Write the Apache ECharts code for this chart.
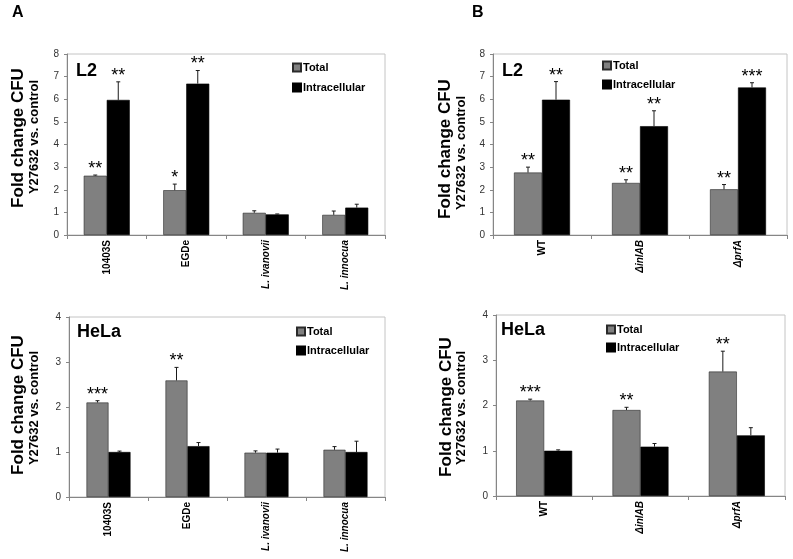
<!DOCTYPE html>
<html>
<head>
<meta charset="utf-8">
<script src="https://cdn.jsdelivr.net/npm/echarts@6/dist/echarts.min.js"></script>
<style>html,body{margin:0;padding:0;background:#fff}#c{width:793px;height:559px}</style>
</head>
<body>
<div id="c"></div>
<script>
// ---------- DATA ----------
const categoriesA = ['10403S', 'EGDe', 'L. ivanovii', 'L. innocua'];
const categoriesB = ['WT', 'ΔinlAB', 'ΔprfA'];
const italicLabels = ['L. ivanovii', 'L. innocua', 'ΔinlAB', 'ΔprfA'];

// Panel A, L2
const aL2Total = [2.62, 1.98, 0.98, 0.89];
const aL2TotalErr = [0.03, 0.27, 0.09, 0.17];
const aL2Intra = [5.97, 6.69, 0.91, 1.21];
const aL2IntraErr = [0.80, 0.58, 0.02, 0.15];
const aL2TotalSig = ['**', '*', '', ''];
const aL2IntraSig = ['**', '**', '', ''];

// Panel B, L2
const bL2Total = [2.76, 2.30, 2.02];
const bL2TotalErr = [0.24, 0.14, 0.21];
const bL2Intra = [5.98, 4.81, 6.52];
const bL2IntraErr = [0.80, 0.68, 0.21];
const bL2TotalSig = ['**', '**', '**'];
const bL2IntraSig = ['**', '**', '***'];

// Panel A, HeLa
const aHeLaTotal = [2.10, 2.59, 0.985, 1.05];
const aHeLaTotalErr = [0.04, 0.29, 0.04, 0.07];
const aHeLaIntra = [1.00, 1.13, 0.985, 1.00];
const aHeLaIntraErr = [0.02, 0.08, 0.08, 0.24];
const aHeLaTotalSig = ['***', '**', '', ''];
const aHeLaIntraSig = ['', '', '', ''];

// Panel B, HeLa
const bHeLaTotal = [2.11, 1.90, 2.75];
const bHeLaTotalErr = [0.03, 0.06, 0.45];
const bHeLaIntra = [1.00, 1.09, 1.34];
const bHeLaIntraErr = [0.02, 0.07, 0.17];
const bHeLaTotalSig = ['***', '**', '**'];
const bHeLaIntraSig = ['', '', ''];

const yTicksL2 = [0, 8, 1];   // min, max, interval
const yTicksHeLa = [0, 4, 1];

// ---------- LAYOUT ----------
const FONT = 'Arial, "Liberation Sans", sans-serif';
const panels = [
  { grid: {left: 67, top: 54, width: 318, height: 181}, cats: categoriesA, y: yTicksL2,
    total: aL2Total, totalErr: aL2TotalErr, intra: aL2Intra, intraErr: aL2IntraErr,
    totalSig: aL2TotalSig, intraSig: aL2IntraSig, bw: 23,
    legend: {left: 292, top: 61, gap: 7}, title: 'L2', titlePos: [76, 71.5],
    yt1: [18.5, 138], yt2: [34.5, 137] },
  { grid: {left: 493, top: 54, width: 294, height: 181}, cats: categoriesB, y: yTicksL2,
    total: bL2Total, totalErr: bL2TotalErr, intra: bL2Intra, intraErr: bL2IntraErr,
    totalSig: bL2TotalSig, intraSig: bL2IntraSig, bw: 28,
    legend: {left: 602, top: 59, gap: 6}, title: 'L2', titlePos: [502, 71],
    yt1: [445, 149], yt2: [461.5, 153] },
  { grid: {left: 69, top: 317, width: 316, height: 180}, cats: categoriesA, y: yTicksHeLa,
    total: aHeLaTotal, totalErr: aHeLaTotalErr, intra: aHeLaIntra, intraErr: aHeLaIntraErr,
    totalSig: aHeLaTotalSig, intraSig: aHeLaIntraSig, bw: 22,
    legend: {left: 296, top: 325, gap: 6}, title: 'HeLa', titlePos: [77, 332],
    yt1: [18.5, 405], yt2: [34.5, 408] },
  { grid: {left: 496, top: 315, width: 289, height: 181}, cats: categoriesB, y: yTicksHeLa,
    total: bHeLaTotal, totalErr: bHeLaTotalErr, intra: bHeLaIntra, intraErr: bHeLaIntraErr,
    totalSig: bHeLaTotalSig, intraSig: bHeLaIntraSig, bw: 28,
    legend: {left: 606, top: 323, gap: 5}, title: 'HeLa', titlePos: [501, 330.5],
    yt1: [446.5, 407], yt2: [461.5, 408] }
];

const grids = [], xAxes = [], yAxes = [], series = [], legends = [], graphics = [];

panels.forEach((p, k) => {
  grids.push(Object.assign({show: true, borderColor: '#c4c4c4', borderWidth: 1, backgroundColor: 'transparent'}, p.grid));
  xAxes.push({
    type: 'category', gridIndex: k, data: p.cats,
    axisLine: {lineStyle: {color: '#868686', width: 1}},
    axisTick: {show: true, length: 4, lineStyle: {color: '#868686'}},
    axisLabel: {
      rotate: 90, interval: 0, margin: 5, color: '#000', fontSize: 10, fontWeight: 'bold', fontFamily: FONT,
      formatter: v => italicLabels.indexOf(v) >= 0 ? '{i|' + v + '}' : '{n|' + v + '}',
      rich: {
        i: {fontStyle: 'italic', fontWeight: 'bold', fontSize: 10, fontFamily: FONT, color: '#000'},
        n: {fontWeight: 'bold', fontSize: 10, fontFamily: FONT, color: '#000'}
      }
    },
    splitLine: {show: false}
  });
  yAxes.push({
    type: 'value', gridIndex: k, min: p.y[0], max: p.y[1], interval: p.y[2],
    axisLine: {show: true, lineStyle: {color: '#868686', width: 1}},
    axisTick: {show: true, length: 3, lineStyle: {color: '#868686'}},
    axisLabel: {color: '#333', fontSize: 10, fontFamily: FONT, margin: 8},
    splitLine: {show: false}
  });
  series.push({
    type: 'bar', name: 'Total', xAxisIndex: k, yAxisIndex: k, data: p.total,
    barWidth: p.bw, barGap: '0%',
    itemStyle: {color: '#808080', borderColor: '#2a2a2a', borderWidth: 0.6}
  });
  series.push({
    type: 'bar', name: 'Intracellular', xAxisIndex: k, yAxisIndex: k, data: p.intra,
    barWidth: p.bw, barGap: '0%',
    itemStyle: {color: '#000', borderColor: '#000', borderWidth: 0.6}
  });
  const errData = [];
  const sigs = [];
  p.cats.forEach((c, i) => {
    errData.push([i, p.total[i] + p.totalErr[i], 0, p.total[i]]);
    sigs.push(p.totalSig[i]);
  });
  p.cats.forEach((c, i) => {
    errData.push([i, p.intra[i] + p.intraErr[i], 1, p.intra[i]]);
    sigs.push(p.intraSig[i]);
  });
  const bw = p.bw;
  series.push({
    type: 'custom', name: 'err' + k, xAxisIndex: k, yAxisIndex: k, data: errData,
    silent: true, z: 5,
    encode: {x: 0, y: 1},
    renderItem: (params, api) => {
      const i = api.value(0), top = api.value(1), s = api.value(2), val = api.value(3);
      const pt = api.coord([i, top]);
      const pb = api.coord([i, val]);
      const x = pt[0] + (s === 0 ? -bw / 2 : bw / 2);
      const children = [
        {type: 'line', shape: {x1: x, y1: pb[1], x2: x, y2: pt[1]}, style: {stroke: '#1a1a1a', lineWidth: 1}},
        {type: 'line', shape: {x1: x - 2, y1: pt[1], x2: x + 2, y2: pt[1]}, style: {stroke: '#1a1a1a', lineWidth: 1}}
      ];
      const sg = sigs[params.dataIndex];
      if (sg) {
        children.push({type: 'text', style: {text: sg, x: x, y: pt[1] - 6, align: 'center', verticalAlign: 'middle',
          fontSize: 18, fontFamily: FONT, fill: '#000'}});
      }
      return {type: 'group', children: children};
    }
  });
  legends.push({
    left: p.legend.left, top: p.legend.top, orient: 'vertical', padding: 0,
    itemWidth: 8, itemHeight: 8, itemGap: p.legend.gap, icon: 'rect', selectedMode: false,
    data: ['Total', 'Intracellular'],
    textStyle: {fontSize: 11, fontWeight: 'bold', fontFamily: FONT, color: '#000', lineHeight: 13, padding: [0, 0, 0, -3]}
  });
  graphics.push({type: 'text', x: p.titlePos[0], y: p.titlePos[1],
    style: {text: p.title, fontSize: 18, fontWeight: 'bold', fontFamily: FONT, fill: '#000', align: 'left', verticalAlign: 'middle'}});
  graphics.push({type: 'text', x: p.yt1[0], y: p.yt1[1], rotation: Math.PI / 2,
    style: {text: 'Fold change CFU', fontSize: 17, fontWeight: 'bold', fontFamily: FONT, fill: '#000', align: 'center', verticalAlign: 'middle'}});
  graphics.push({type: 'text', x: p.yt2[0], y: p.yt2[1], rotation: Math.PI / 2,
    style: {text: 'Y27632 vs. control', fontSize: 13, fontWeight: 'bold', fontFamily: FONT, fill: '#000', align: 'center', verticalAlign: 'middle'}});
});

graphics.push({type: 'text', x: 12, y: 13, style: {text: 'A', fontSize: 16, fontWeight: 'bold', fontFamily: FONT, fill: '#000', align: 'left', verticalAlign: 'middle'}});
graphics.push({type: 'text', x: 472, y: 13, style: {text: 'B', fontSize: 16, fontWeight: 'bold', fontFamily: FONT, fill: '#000', align: 'left', verticalAlign: 'middle'}});

const chart = echarts.init(document.getElementById('c'), null, {renderer: 'canvas'});
chart.setOption({
  animation: false,
  backgroundColor: '#fff',
  grid: grids, xAxis: xAxes, yAxis: yAxes, series: series, legend: legends, graphic: graphics
});
</script>
</body>
</html>
